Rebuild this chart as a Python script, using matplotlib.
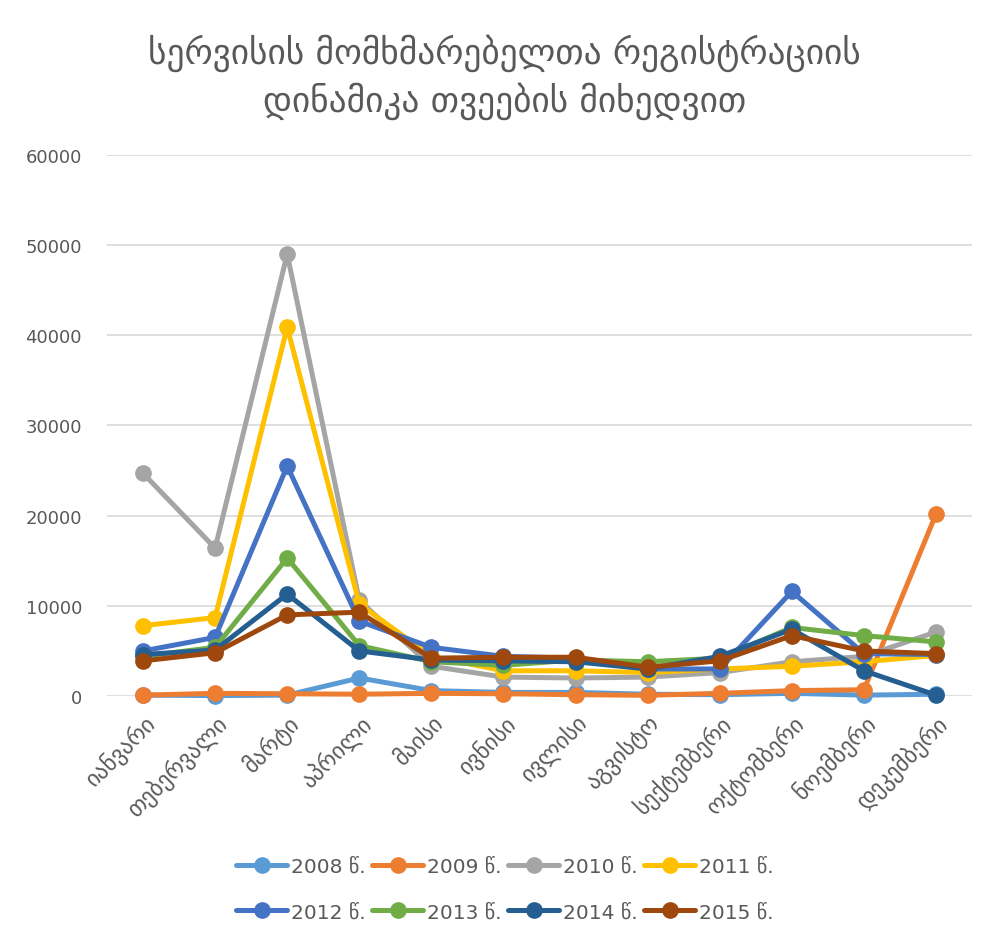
import numpy as np
import matplotlib.pyplot as plt

plt.rcParams['font.family'] = ['DejaVu Sans']

# თვეები და წლები
months = ["იანვარი", "თებერვალი", "მარტი", "აპრილი", "მაისი", "ივნისი",
          "ივლისი", "აგვისტო", "სექტემბერი", "ოქტომბერი", "ნოემბერი", "დეკემბერი"]
years = ["2008 წ.", "2009 წ.", "2010 წ.", "2011 წ.", "2012 წ.", "2013 წ.", "2014 წ.", "2015 წ."]
colors = ["#5B9BD5", "#ED7D31", "#A5A5A5", "#FFC000", "#4472C4", "#70AD47", "#255E91", "#9E480E"]

v2008 = [100, 50, 100, 2000, 600, 400, 400, 200, 150, 300, 100, 200]
v2009 = [100, 300, 250, 200, 300, 250, 150, 80, 300, 600, 700, 20200]
v2010 = [24700, 16400, 49000, 10600, 3300, 2100, 2000, 2100, 2600, 3800, 4400, 7100]
v2011 = [7800, 8700, 40900, 10200, 4400, 2800, 2800, 2600, 3000, 3300, 3800, 4500]
v2012 = [5000, 6500, 25500, 8300, 5400, 4400, 4200, 3000, 3000, 11600, 4700, 4600]
v2013 = [4400, 5400, 15300, 5600, 3800, 3400, 4000, 3800, 4200, 7600, 6700, 6000]
v2014 = [4600, 5100, 11300, 5000, 4000, 3900, 3800, 3000, 4400, 7400, 2800, 100]
v2015 = [3900, 4800, 9000, 9300, 4200, 4300, 4300, 3200, 3900, 6700, 5000, 4700]
series = [v2008, v2009, v2010, v2011, v2012, v2013, v2014, v2015]

fig = plt.figure(figsize=(9.95, 9.45), dpi=100)
ax = fig.add_axes([0.1075, 0.2624, 0.8695, 0.5726])

x = np.arange(len(months))
lines = []
for name, vals, c in zip(years, series, colors):
    l, = ax.plot(x, vals, color=c, lw=3.6, marker='o', ms=11, label=name,
                 solid_capstyle='round', clip_on=False, zorder=3)
    lines.append(l)

ax.set_xlim(-0.5, len(months) - 0.5)
ax.set_ylim(0, 60000)
ax.set_yticks(np.arange(0, 60001, 10000))
ax.yaxis.grid(True, color='#D9D9D9', lw=1.2)
ax.set_axisbelow(True)
for s in ax.spines.values():
    s.set_visible(False)
ax.tick_params(length=0, colors='#595959', labelsize=13)
ax.tick_params(axis='y', pad=18)
ax.set_xticks(x)
ax.set_xticklabels(months, rotation=45, ha='right', rotation_mode='anchor', fontsize=16.5)
ax.tick_params(axis='x', pad=10)

fig.text(0.507, 0.918, "სერვისის მომხმარებელთა რეგისტრაციის\nდინამიკა თვეების მიხედვით",
         ha='center', va='center', fontsize=25.5, color='#595959', linespacing=1.35)

# legend filled row by row
order = [0, 4, 1, 5, 2, 6, 3, 7]
ax.legend([lines[i] for i in order], [years[i] for i in order],
          loc='center', bbox_to_anchor=(0.46, -0.357), ncol=4, frameon=False,
          fontsize=14.5, labelcolor='#595959', handlelength=2.5, columnspacing=0.35,
          handletextpad=0.2, labelspacing=1.3)

fig.savefig("out.png", dpi=100)
